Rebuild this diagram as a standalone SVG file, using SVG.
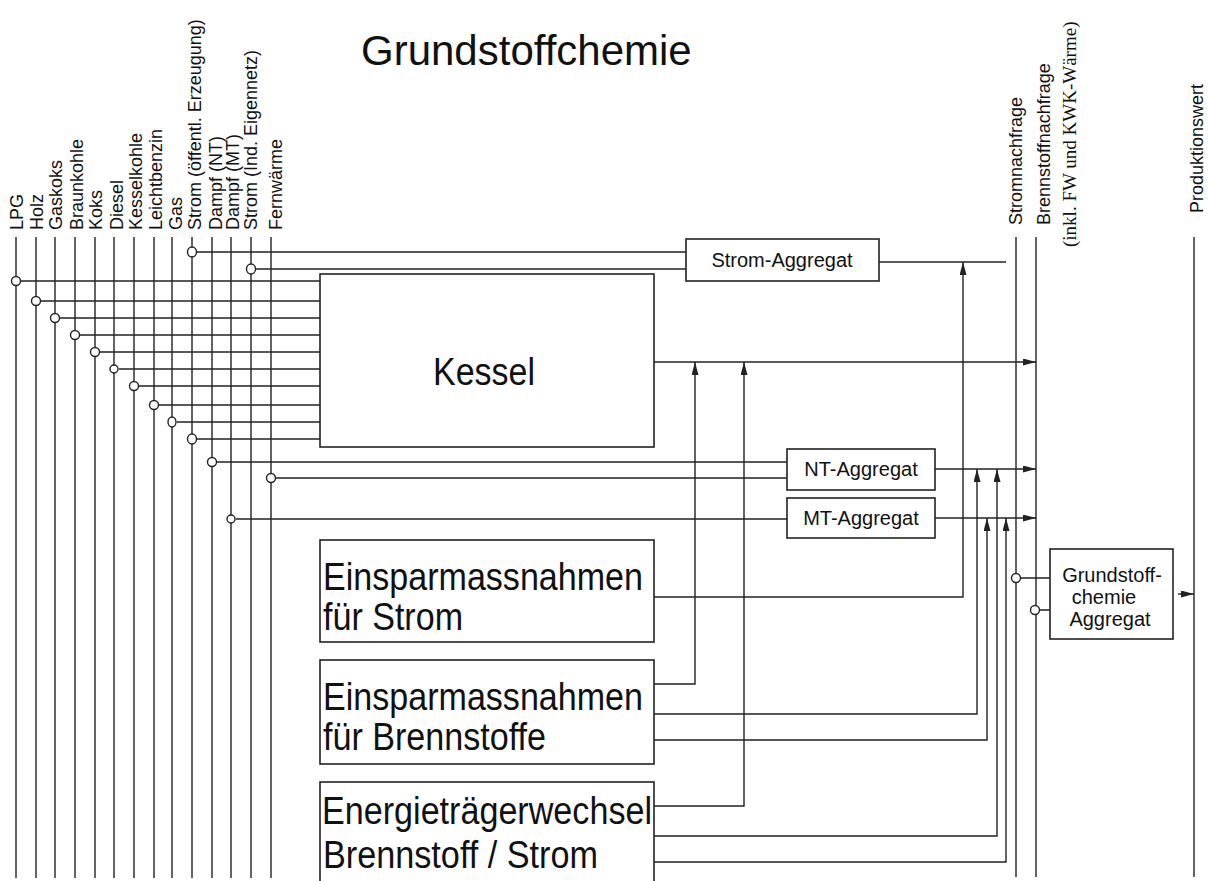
<svg xmlns="http://www.w3.org/2000/svg" width="1208" height="881" viewBox="0 0 1208 881">
<defs>
<marker id="ah" viewBox="0 0 13 7" refX="13" refY="3.5" markerWidth="13" markerHeight="7" markerUnits="userSpaceOnUse" orient="auto">
<path d="M0,0 L13,3.5 L0,7 Z" fill="#222"/>
</marker>
</defs>
<style>
.l{stroke:#222;stroke-width:1.4;fill:none}
.a{stroke:#222;stroke-width:1.4;fill:none;marker-end:url(#ah)}
.b{stroke:#222;stroke-width:1.6;fill:#fff}
.c{stroke:#222;stroke-width:1.4;fill:#fff}
.t{font-family:"Liberation Sans",Arial,sans-serif;fill:#111}
.s18{font-size:18px}
.s20{font-size:20px}
.s38{font-size:38px}
.ser{font-family:"Liberation Serif","Times New Roman",serif;font-size:19px;fill:#111}
</style>
<rect width="1208" height="881" fill="#fff"/>

<g id="title"><text class="t" x="361" y="65" font-size="42">Grundstoffchemie</text></g>

<g id="labels">
<text class="t s18" transform="translate(23,230) rotate(-90)">LPG</text>
<text class="t s18" transform="translate(43,230) rotate(-90)">Holz</text>
<text class="t s18" transform="translate(62,230) rotate(-90)">Gaskoks</text>
<text class="t s18" transform="translate(83,230) rotate(-90)">Braunkohle</text>
<text class="t s18" transform="translate(102,230) rotate(-90)">Koks</text>
<text class="t s18" transform="translate(123,230) rotate(-90)">Diesel</text>
<text class="t s18" transform="translate(142,230) rotate(-90)">Kesselkohle</text>
<text class="t s18" transform="translate(162,230) rotate(-90)">Leichtbenzin</text>
<text class="t s18" transform="translate(182,230) rotate(-90)">Gas</text>
<text class="t s18" transform="translate(201,230) rotate(-90)">Strom (öffentl. Erzeugung)</text>
<text class="t s18" transform="translate(222,230) rotate(-90)">Dampf (NT)</text>
<text class="t s18" transform="translate(239,230) rotate(-90)">Dampf (MT)</text>
<text class="t s18" transform="translate(257,230) rotate(-90)">Strom (Ind. Eigennetz)</text>
<text class="t s18" transform="translate(282,230) rotate(-90)">Fernwärme</text>
<text class="t s18" transform="translate(1022,225) rotate(-90)">Stromnachfrage</text>
<text class="t s18" transform="translate(1050,225) rotate(-90)">Brennstoffnachfrage</text>
<text class="ser" transform="translate(1076,247) rotate(-90)">(inkl. FW und KWK-Wärme)</text>
<text class="t s18" transform="translate(1203,213) rotate(-90)">Produktionswert</text>
</g>

<g id="connectors">
<path class="l" d="M16,237V878 M36,237V878 M55,237V878 M75,237V878 M95,237V878 M114,237V878 M134,237V878 M154,237V878 M172,237V878 M192,237V878 M212,237V878 M231,237V878 M251,237V878 M271,237V878"/>
<path class="l" d="M1016,237V877 M1036,237V877 M1194,237V877"/>
<path class="l" d="M197,252H686 M256,269H686"/>
<path class="l" d="M21,281H320 M41,301H320 M60,318H320 M80,335H320 M100,352H320 M119,369H320 M139,386H320 M159,405H320 M177,422H320 M197,439H320"/>
<path class="l" d="M217,462H787 M276,478H787 M236,519H787"/>
<path class="l" d="M879,262H1006"/>
<path class="a" d="M654,362H1036"/>
<path class="a" d="M935,469H1036"/>
<path class="a" d="M935,518H1036"/>
<path class="a" d="M654,597H963V262"/>
<path class="a" d="M654,684H695V362"/>
<path class="a" d="M654,714H977V469"/>
<path class="a" d="M654,740H987V518"/>
<path class="a" d="M654,806H744V362"/>
<path class="a" d="M654,836H997V469"/>
<path class="a" d="M654,862H1006V518"/>
<path class="l" d="M1020,578H1050 M1039,610H1050"/>
<path class="a" d="M1178,594H1194"/>
<ellipse class="c" cx="192" cy="252" rx="4.5" ry="5"/>
<ellipse class="c" cx="251" cy="269" rx="4.5" ry="5"/>
<ellipse class="c" cx="16" cy="281" rx="4.5" ry="4.5"/>
<ellipse class="c" cx="36" cy="301" rx="4.5" ry="4.5"/>
<ellipse class="c" cx="55" cy="318" rx="4.5" ry="4.5"/>
<ellipse class="c" cx="75" cy="335" rx="4.5" ry="4.5"/>
<ellipse class="c" cx="95" cy="352" rx="4.5" ry="4.5"/>
<ellipse class="c" cx="114" cy="369" rx="4" ry="4"/>
<ellipse class="c" cx="134" cy="386" rx="4.5" ry="4.5"/>
<ellipse class="c" cx="154" cy="405" rx="4.5" ry="4.5"/>
<ellipse class="c" cx="172" cy="422" rx="4" ry="5"/>
<ellipse class="c" cx="192" cy="439" rx="4.5" ry="5"/>
<ellipse class="c" cx="212" cy="462" rx="4.5" ry="4.5"/>
<ellipse class="c" cx="271" cy="478" rx="4.5" ry="4.5"/>
<ellipse class="c" cx="231" cy="519" rx="4" ry="4"/>
<ellipse class="c" cx="1016" cy="578" rx="4.5" ry="4.5"/>
<ellipse class="c" cx="1035" cy="610" rx="4.5" ry="4.5"/>
</g>

<g id="strom-aggregat">
<rect class="b" x="686" y="239" width="193" height="42"/>
<text class="t s20" x="782" y="267" text-anchor="middle">Strom-Aggregat</text>
</g>
<g id="kessel">
<rect class="b" x="320" y="274" width="334" height="173"/>
<text class="t s38" x="433" y="385" textLength="102" lengthAdjust="spacingAndGlyphs">Kessel</text>
</g>
<g id="nt-aggregat">
<rect class="b" x="787" y="449" width="148" height="41"/>
<text class="t s20" x="861" y="476" text-anchor="middle">NT-Aggregat</text>
</g>
<g id="mt-aggregat">
<rect class="b" x="787" y="498" width="148" height="40"/>
<text class="t s20" x="861" y="525" text-anchor="middle">MT-Aggregat</text>
</g>
<g id="einspar-strom">
<rect class="b" x="320" y="540" width="334" height="102"/>
<text class="t s38" x="323" y="590" textLength="320" lengthAdjust="spacingAndGlyphs">Einsparmassnahmen</text>
<text class="t s38" x="323" y="630" textLength="140" lengthAdjust="spacingAndGlyphs">für Strom</text>
</g>
<g id="einspar-brennstoffe">
<rect class="b" x="320" y="660" width="334" height="104"/>
<text class="t s38" x="323" y="710" textLength="320" lengthAdjust="spacingAndGlyphs">Einsparmassnahmen</text>
<text class="t s38" x="323" y="750" textLength="223" lengthAdjust="spacingAndGlyphs">für Brennstoffe</text>
</g>
<g id="energietraegerwechsel">
<rect class="b" x="320" y="782" width="334" height="110"/>
<text class="t s38" x="322" y="824" textLength="330" lengthAdjust="spacingAndGlyphs">Energieträgerwechsel</text>
<text class="t s38" x="323" y="868" textLength="275" lengthAdjust="spacingAndGlyphs">Brennstoff / Strom</text>
</g>
<g id="grundstoffchemie-aggregat">
<rect class="b" x="1050" y="549" width="123" height="90"/>
<text class="t s20" x="1112" y="582" text-anchor="middle">Grundstoff-</text>
<text class="t s20" x="1104" y="604" text-anchor="middle">chemie</text>
<text class="t s20" x="1110" y="626" text-anchor="middle">Aggregat</text>
</g>
</svg>
